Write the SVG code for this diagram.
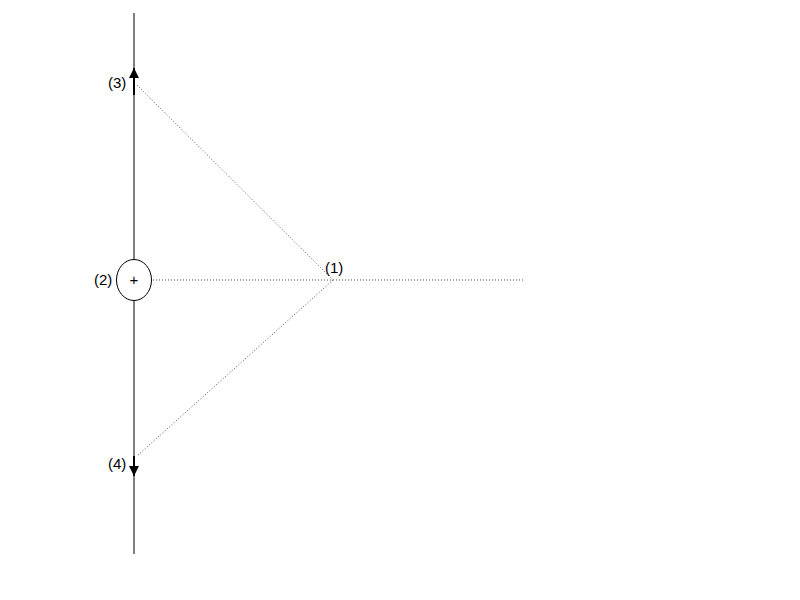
<svg xmlns="http://www.w3.org/2000/svg" width="800" height="600" viewBox="0 0 800 600">
<defs>
<style>
.lbl{font-family:"Liberation Sans",Arial,sans-serif;font-size:15px;fill:#000}
.dot{stroke:#555;stroke-width:1;stroke-dasharray:1,2;fill:none}
.axis{stroke:#000;stroke-width:1;fill:none}
.thick{stroke:#000;stroke-width:2;fill:none}
</style>
<marker id="ah" viewBox="0 0 10 10" refX="10" refY="5" markerWidth="10" markerHeight="10" markerUnits="userSpaceOnUse" orient="auto">
<path d="M0,0 L10,5 L0,10 z" fill="#000"/>
</marker>
</defs>
<rect width="800" height="600" fill="#fff"/>
<g id="connectors">
<line class="axis" x1="134" y1="13" x2="134" y2="260"/>
<line class="axis" x1="134" y1="300" x2="134" y2="554"/>
<line class="thick" x1="134" y1="95" x2="134" y2="68" marker-end="url(#ah)"/>
<line class="thick" x1="134" y1="456" x2="134" y2="476" marker-end="url(#ah)"/>
<line class="dot" x1="137" y1="85" x2="333" y2="280"/>
<line class="dot" x1="153" y1="280" x2="523" y2="280"/>
<line class="dot" x1="333" y1="280" x2="137" y2="456"/>
</g>
<g id="node2">
<ellipse cx="134" cy="280" rx="17.5" ry="20.5" fill="#fff" stroke="#000" stroke-width="1"/>
<text class="lbl" x="134" y="285" text-anchor="middle" font-size="14">+</text>
<text class="lbl" x="94" y="285">(2)</text>
</g>
<g id="node1"><text class="lbl" x="325" y="273">(1)</text></g>
<g id="node3"><text class="lbl" x="108" y="88">(3)</text></g>
<g id="node4"><text class="lbl" x="108" y="469">(4)</text></g>
</svg>
